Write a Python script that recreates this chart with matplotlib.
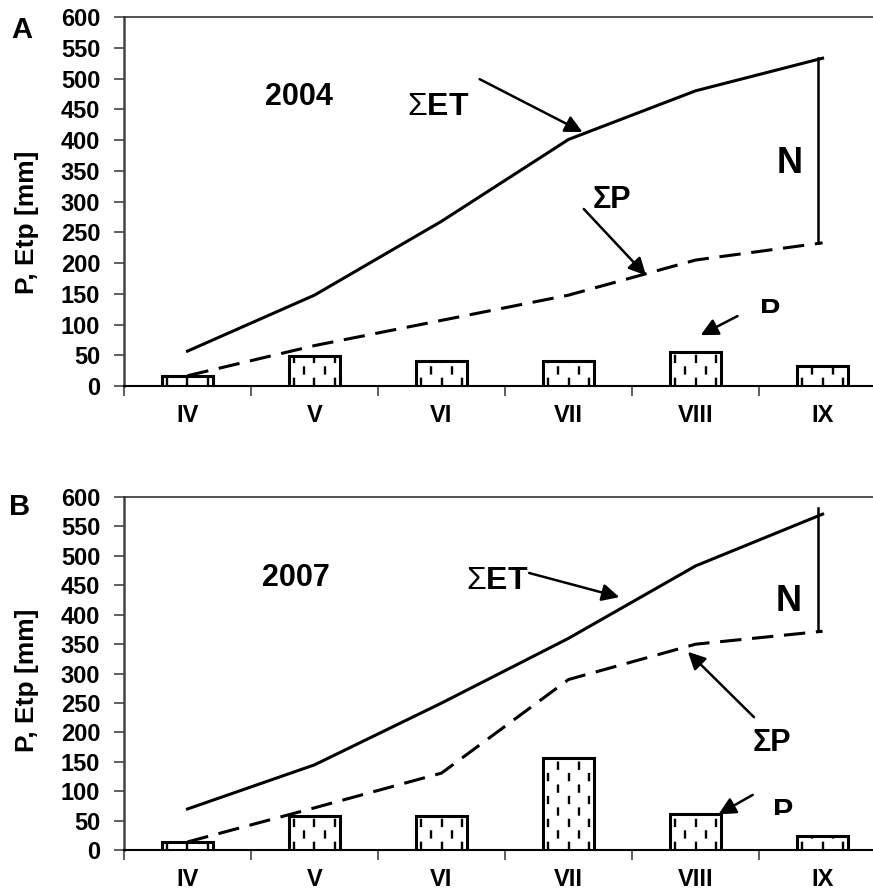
import matplotlib
matplotlib.use('Agg')
import matplotlib.pyplot as plt
from matplotlib.lines import Line2D
from matplotlib.transforms import Bbox, TransformedBbox

plt.rcParams['font.family'] = ['Liberation Sans', 'DejaVu Sans']
plt.rcParams['font.weight'] = 'bold'
plt.rcParams['mathtext.fontset'] = 'custom'
plt.rcParams['mathtext.rm'] = 'Liberation Sans:weight=normal'

months = ['IV', 'V', 'VI', 'VII', 'VIII', 'IX']

# 2004
p_2004 = [17, 49, 41, 41, 55, 33]
sum_p_2004 = [17, 66, 107, 148, 205, 233]
sum_et_2004 = [57, 148, 268, 401, 480, 533]

# 2007
p_2007 = [14, 58, 58, 157, 61, 24]
sum_p_2007 = [14, 72, 131, 290, 350, 372]
sum_et_2007 = [70, 145, 250, 360, 483, 571]

years = ['2004', '2007']
panels = ['A', 'B']


def hatched_bars(ax, x, heights, width=0.4):
    bars = ax.bar(x, heights, width=width, color='white', edgecolor='black',
                  linewidth=2.2, zorder=3)
    lw = 1.7
    for rect in bars:
        x0 = rect.get_x()
        w = rect.get_width()
        h = rect.get_height()
        for i in range(5):
            xc = x0 + w * (i + 0.5) / 5
            offset = 0 if i % 2 == 0 else 8.3 / lw
            ln = Line2D([xc, xc], [0, h], color='black', lw=lw,
                        linestyle=(offset, (6 / lw, 10.5 / lw)), zorder=3.5)
            ax.add_line(ln)
            ln.set_clip_path(rect)
    return bars


def arrow(ax, tail, head):
    ax.annotate('', xy=head, xytext=tail,
                arrowprops=dict(arrowstyle='-|>', color='black', lw=1.8,
                                mutation_scale=26, shrinkA=0, shrinkB=0))


def clipped_text(ax, x, y, s, ymin, size):
    # label drawn only above ymin, as in the source figure
    t = ax.text(x, y, s, ha='center', va='baseline', fontsize=size, fontweight='bold')
    t.set_clip_box(TransformedBbox(Bbox([[x - 1, ymin], [x + 1, 700]]), ax.transData))
    t.set_clip_on(True)


fig = plt.figure(figsize=(8.73, 8.94), dpi=100)
ax_a = fig.add_axes([0.142, 0.568, 0.873, 0.413])
ax_b = fig.add_axes([0.142, 0.049, 0.873, 0.395])

x = list(range(len(months)))
data = [(ax_a, p_2004, sum_p_2004, sum_et_2004),
        (ax_b, p_2007, sum_p_2007, sum_et_2007)]

for ax, p, sp, set_ in data:
    hatched_bars(ax, x, p)
    ax.plot(x, set_, color='black', lw=2.2, zorder=4)
    ax.plot(x, sp, color='black', lw=2.2, dashes=(7, 3.5), zorder=4)
    ax.plot([4.96, 4.96], [sp[-1], set_[-1] + (11 if ax is ax_b else 0)],
            color='black', lw=1.8, zorder=4)

    ax.set_xlim(-0.5, 5.5)
    ax.set_ylim(0, 600)
    ax.set_yticks(range(0, 601, 50))
    ax.tick_params(axis='y', labelsize=17, length=7, width=1.2, color='#444', pad=10)
    ax.set_xticks(x)
    ax.set_xticklabels(months)
    ax.set_xticks([i - 0.5 for i in range(7)], minor=True)
    ax.tick_params(axis='x', which='major', length=0, labelsize=17, pad=13)
    ax.tick_params(axis='x', which='minor', length=7, width=1.2, color='#444')
    for lbl in ax.get_xticklabels() + ax.get_yticklabels():
        lbl.set_fontweight('bold')
    ax.spines['right'].set_visible(False)
    ax.spines['left'].set_color('#444')
    ax.spines['left'].set_linewidth(1.8)
    ax.spines['bottom'].set_linewidth(1.5)
    ax.spines['top'].set_color('#333')
    ax.spines['top'].set_linewidth(1.2)

# panel A annotations
ax_a.text(0.88, 470, '2004', ha='center', va='center', fontsize=22, fontweight='bold')
ax_a.text(1.97, 454, r'$\Sigma$ET', ha='center', va='center', fontsize=23, fontweight='bold')
arrow(ax_a, (2.30, 499), (3.11, 413))
ax_a.text(3.34, 302, 'ΣP', ha='center', va='center', fontsize=22, fontweight='bold')
arrow(ax_a, (3.12, 288), (3.61, 180))
ax_a.text(4.74, 362, 'N', ha='center', va='center', fontsize=26, fontweight='bold')
clipped_text(ax_a, 4.59, 106, 'P', 119, 22)
arrow(ax_a, (4.33, 114), (4.04, 83))

# panel B annotations
ax_b.text(0.85, 463, '2007', ha='center', va='center', fontsize=22, fontweight='bold')
ax_b.text(2.44, 457, r'$\Sigma$ET', ha='center', va='center', fontsize=23, fontweight='bold')
arrow(ax_b, (2.69, 471), (3.40, 430))
ax_b.text(4.73, 422, 'N', ha='center', va='center', fontsize=26, fontweight='bold')
ax_b.text(4.60, 182, 'ΣP', ha='center', va='center', fontsize=22, fontweight='bold')
arrow(ax_b, (4.46, 226), (3.94, 337))
clipped_text(ax_b, 4.69, 49, 'P', 60, 22)
arrow(ax_b, (4.45, 94), (4.18, 61))

# panel letters and y labels
fig.text(22 / 873, 1 - 30 / 894, panels[0], ha='center', va='center', fontsize=21, fontweight='bold')
fig.text(20 / 873, 1 - 507 / 894, panels[1], ha='center', va='center', fontsize=21, fontweight='bold')
fig.text(27 / 873, 1 - 222 / 894, 'P, Etp [mm]', rotation=90, ha='center', va='center',
         fontsize=19, fontweight='bold')
fig.text(27 / 873, 1 - 680 / 894, 'P, Etp [mm]', rotation=90, ha='center', va='center',
         fontsize=19, fontweight='bold')

fig.savefig('out.png', dpi=100)
